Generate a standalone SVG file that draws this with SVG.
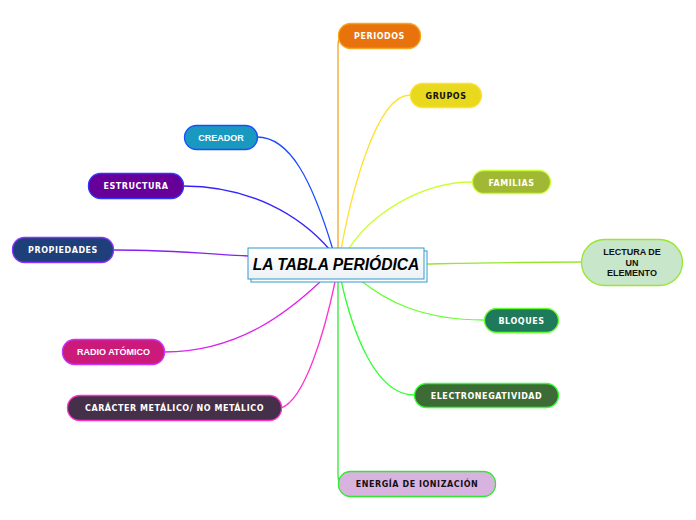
<svg xmlns="http://www.w3.org/2000/svg" width="696" height="520" viewBox="0 0 696 520">
<defs>
<linearGradient id="cg" x1="0" y1="0" x2="0" y2="1">
<stop offset="0" stop-color="#ffffff"/>
<stop offset="1" stop-color="#eef2f5"/>
</linearGradient>
</defs>
<style>
.c{fill:none;stroke-width:1.3}
.n rect{stroke-width:1.3}
.v{font-family:"DejaVu Sans",Verdana,sans-serif;font-weight:bold;font-size:8px;text-anchor:middle;letter-spacing:0.55px}
.a{font-family:"Liberation Sans",Arial,sans-serif;font-weight:bold;font-size:9px;text-anchor:middle}
.w{fill:#ffffff}
.k{fill:#111111}
</style>
<rect width="696" height="520" fill="#ffffff"/>
<g id="connectors">
<path class="c" stroke="#F5A623" d="M338,250 L338,45 Q338,36 345,36"/>
<path class="c" stroke="#FFE033" d="M410,95 C375,95 350,200 341,250"/>
<path class="c" stroke="#CCFF33" d="M472,182 C420,182 370,215 348,250"/>
<path class="c" stroke="#99E62E" d="M425,264 C480,263 530,262 581,262"/>
<path class="c" stroke="#66FF33" d="M484,320 C420,320 385,300 360,280"/>
<path class="c" stroke="#33FF33" d="M414,395 C375,395 352,330 341,280"/>
<path class="c" stroke="#33E633" d="M338,280 L338,476 Q338,484 345,484"/>
<path class="c" stroke="#1A4DFF" d="M257,137 C290,137 312,180 333,250"/>
<path class="c" stroke="#3322FF" d="M183,186 C250,186 300,215 330,250"/>
<path class="c" stroke="#8822EE" d="M113,250 C170,250 210,254 248,256"/>
<path class="c" stroke="#DD22EE" d="M164,352 C240,352 290,310 320,282"/>
<path class="c" stroke="#FF33CC" d="M281,408 C305,400 325,330 335,282"/>
</g>
<g id="center">
<rect x="251" y="251" width="176" height="31" fill="#ffffff" stroke="#3399CC" stroke-width="1"/>
<rect x="248" y="248" width="176" height="31" fill="url(#cg)" stroke="#3399CC" stroke-width="1"/>
<text x="336" y="269.5" font-family="Liberation Sans,Arial,sans-serif" font-weight="bold" font-style="italic" font-size="15.6" text-anchor="middle" fill="#000000">LA TABLA PERIÓDICA</text>
</g>
<g id="periodos" class="n">
<rect x="338.5" y="23.5" width="82" height="25" rx="12" fill="#E8730C" stroke="#F5A623"/>
<text class="v w" x="379.5" y="39">PERIODOS</text>
</g>
<g id="grupos" class="n">
<rect x="410.5" y="83.5" width="71" height="24" rx="12" fill="#E8D81E" stroke="#FFE033"/>
<text class="v k" x="446" y="99">GRUPOS</text>
</g>
<g id="familias" class="n">
<rect x="472.5" y="170.5" width="78" height="23" rx="11.5" fill="#A0B833" stroke="#CCFF33"/>
<text class="v w" x="511.5" y="185.5">FAMILIAS</text>
</g>
<g id="lectura" class="n">
<rect x="581.5" y="239.5" width="101" height="46" rx="23" fill="#C8E6C9" stroke="#99E62E"/>
<text class="a k" font-size="8.5" x="632" y="255">LECTURA DE</text>
<text class="a k" font-size="8.5" x="632" y="265.5">UN</text>
<text class="a k" font-size="8.5" x="632" y="276">ELEMENTO</text>
</g>
<g id="bloques" class="n">
<rect x="484.5" y="308.5" width="74" height="24" rx="12" fill="#1E7A5A" stroke="#66FF33"/>
<text class="v w" x="521.5" y="324">BLOQUES</text>
</g>
<g id="electronegatividad" class="n">
<rect x="414.5" y="383.5" width="144" height="24" rx="12" fill="#3D6B35" stroke="#33FF33"/>
<text class="v w" x="486.5" y="399">ELECTRONEGATIVIDAD</text>
</g>
<g id="energia" class="n">
<rect x="338.5" y="471.5" width="157" height="25" rx="12" fill="#D9B3E0" stroke="#33E633"/>
<text class="v k" x="417" y="487">ENERGÍA DE IONIZACIÓN</text>
</g>
<g id="creador" class="n">
<rect x="184.5" y="125.5" width="73" height="24" rx="12" fill="#1A99C0" stroke="#1A4DFF"/>
<text class="a w" x="221" y="140.5">CREADOR</text>
</g>
<g id="estructura" class="n">
<rect x="88.5" y="173.5" width="95" height="25" rx="12" fill="#660099" stroke="#3333FF"/>
<text class="v w" x="136" y="189">ESTRUCTURA</text>
</g>
<g id="propiedades" class="n">
<rect x="12.5" y="237.5" width="101" height="25" rx="12" fill="#1E3F7A" stroke="#8833FF"/>
<text class="v w" x="63" y="253">PROPIEDADES</text>
</g>
<g id="radio" class="n">
<rect x="62.5" y="339.5" width="102" height="25" rx="12" fill="#CC1A7A" stroke="#CC33FF"/>
<text class="a w" x="113.5" y="355">RADIO ATÓMICO</text>
</g>
<g id="caracter" class="n">
<rect x="67.5" y="395.5" width="214" height="25" rx="12" fill="#45304A" stroke="#FF33CC"/>
<text class="v w" x="174.5" y="411">CARÁCTER METÁLICO/ NO METÁLICO</text>
</g>
</svg>
